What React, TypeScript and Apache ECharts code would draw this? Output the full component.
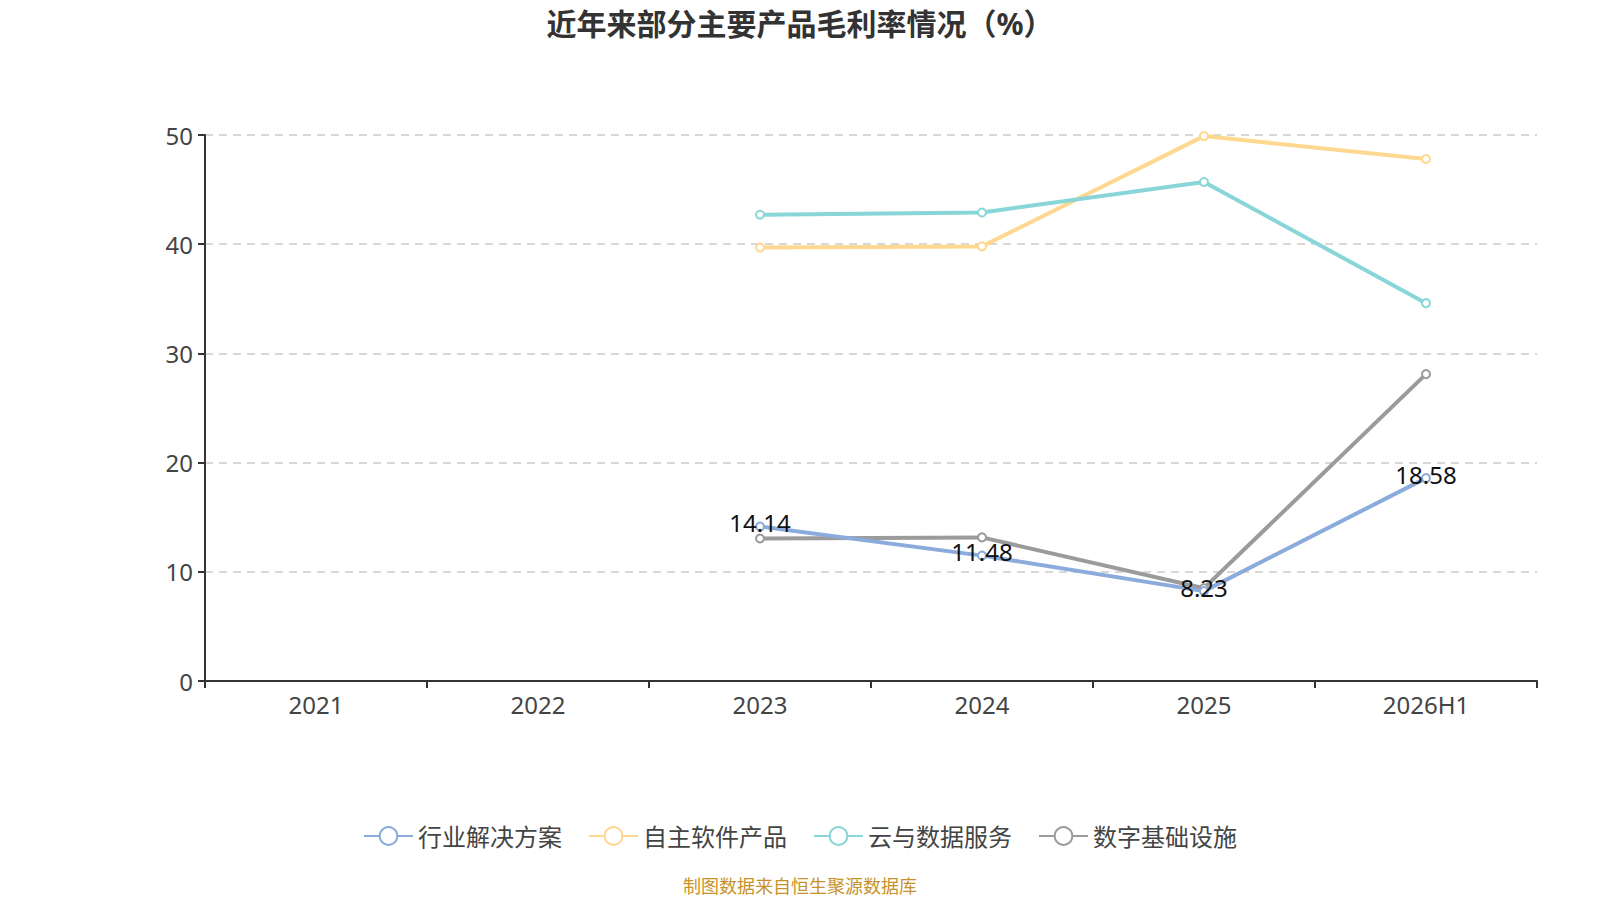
import React, { useEffect, useRef } from "react";
import * as echarts from "echarts";

const categories = ["2021", "2022", "2023", "2024", "2025", "2026H1"];
const seriesNames = ["行业解决方案", "自主软件产品", "云与数据服务", "数字基础设施"];
const industrySolutions = [null, null, 14.14, 11.48, 8.23, 18.58];
const selfSoftware = [null, null, 39.7, 39.8, 49.9, 47.8];
const cloudData = [null, null, 42.7, 42.9, 45.7, 34.6];
const digitalInfra = [null, null, 13.05, 13.15, 8.5, 28.1];
const yTicks = { min: 0, max: 50, interval: 10 };
const colors = ["#8aabdc", "#fed890", "#88d6d8", "#9b9b9b"];

const FONT = "'Noto Sans', 'Noto Sans CJK SC', sans-serif";

export default function App() {
  const ref = useRef<HTMLDivElement>(null);
  useEffect(() => {
    document.body.style.margin = "0";
    const chart = echarts.init(ref.current!, null, { renderer: "svg" });
    const data = [industrySolutions, selfSoftware, cloudData, digitalInfra];
    chart.setOption({
      animation: false,
      textStyle: { fontFamily: FONT },
      title: {
        text: "近年来部分主要产品毛利率情况（%）",
        left: "center",
        top: 3,
        textStyle: { fontSize: 30, fontWeight: "bold", color: "#333", fontFamily: FONT },
      },
      legend: {
        top: 819,
        left: "center",
        itemWidth: 49,
        itemHeight: 22,
        itemGap: 26,
        textStyle: { fontSize: 24, color: "#444", fontFamily: FONT },
        lineStyle: { width: 2 },
        data: seriesNames,
      },
      grid: { left: 205, right: 63, top: 135, bottom: 219 },
      xAxis: {
        type: "category",
        data: categories,
        boundaryGap: true,
        axisLine: { lineStyle: { color: "#333", width: 2 } },
        axisTick: { show: true, length: 7, lineStyle: { color: "#333", width: 2 } },
        axisLabel: { fontSize: 24, color: "#444", margin: 11, fontFamily: FONT },
      },
      yAxis: {
        type: "value",
        min: yTicks.min,
        max: yTicks.max,
        interval: yTicks.interval,
        axisLine: { show: true, lineStyle: { color: "#333", width: 2 } },
        axisTick: { show: true, length: 7, lineStyle: { color: "#333", width: 2 } },
        axisLabel: { fontSize: 24, color: "#444", margin: 12, fontFamily: FONT },
        splitLine: { lineStyle: { color: "#cccccc", type: [8, 6], width: 1.5 } },
      },
      series: seriesNames.map((name, i) => ({
        name,
        type: "line",
        data: data[i],
        symbol: "emptyCircle",
        symbolSize: 8,
        connectNulls: false,
        itemStyle: { color: colors[i], borderWidth: 2 },
        lineStyle: { color: colors[i], width: 4 },
        label:
          i === 0
            ? { show: true, position: "inside", offset: [0, -4], fontSize: 24, color: "#111", fontFamily: FONT }
            : { show: false },
        z: i === 0 ? 3 : 2,
      })),
      graphic: [
        {
          type: "text",
          left: "center",
          top: 877,
          style: { text: "制图数据来自恒生聚源数据库", fontSize: 18, fill: "#c8922a", fontFamily: FONT },
        },
      ],
    });
    return () => chart.dispose();
  }, []);
  return <div ref={ref} style={{ width: 1600, height: 900 }} />;
}
